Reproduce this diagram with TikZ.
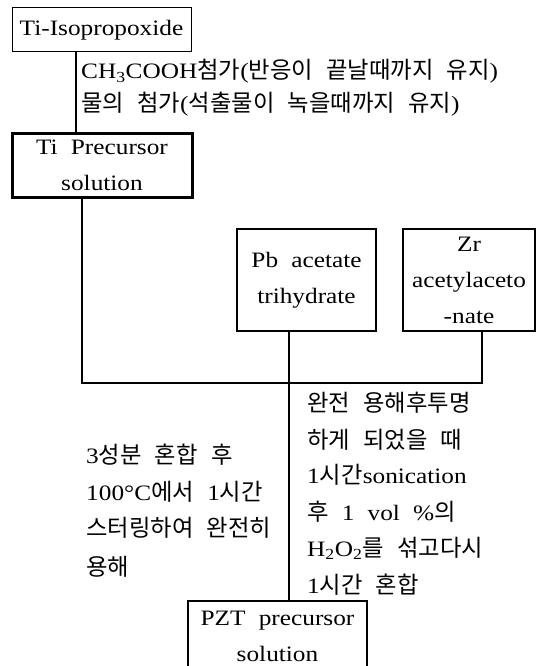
\documentclass[tikz,border=0pt]{standalone}
\usepackage{fontspec}
\setmainfont{Liberation Serif}[FakeStretch=1.15]
\newfontfamily\krfont{Noto Sans CJK KR}[Scale=1.06]
\newcommand\K[1]{{\krfont #1}}
\newcommand\wsp{\hspace{0.6em}}
\begin{document}
\begin{tikzpicture}[x=1pt,y=-1pt,
  every node/.style={font=\fontsize{22}{36}\selectfont},
  boxnode/.style={draw, line width=2pt, inner sep=0pt, align=center},
  conn/.style={line width=2pt},
  txt/.style={inner sep=0pt, anchor=base west}]
\useasboundingbox (0,0) rectangle (544,666);
\begin{scope}
\clip (0,0) rectangle (544,666);
% boxes
\node[boxnode, line width=1pt, minimum width=179pt, minimum height=44pt] (tiiso) at (101.5,30) {Ti-Isopropoxide};
\node[boxnode, line width=3pt, minimum width=180pt, minimum height=64pt] (tiprec) at (102,165) {Ti\wsp Precursor\\solution};
\node[boxnode, minimum width=139pt, minimum height=102pt] (pb) at (306.5,280) {Pb\wsp acetate\\trihydrate};
\node[boxnode, minimum width=132pt, minimum height=102pt] (zr) at (469,280) {Zr\\acetylaceto\\-nate};
\node[boxnode, line width=2.5pt, minimum width=179pt, minimum height=70pt] (pzt) at (277.5,636) {PZT\wsp precursor\\solution};
% connectors
\coordinate (mix) at (290,383);
\draw[conn] ([xshift=64pt]tiiso.south west) -- ([xshift=64pt]tiiso.south west |- tiprec.north);
\draw[conn] ([xshift=71pt]tiprec.south west) |- (mix);
\draw[conn] (mix) -| ([xshift=80pt]zr.south west);
\draw[conn] ([xshift=53pt]pb.south west) -- ([xshift=53pt]pb.south west |- pzt.north);
% texts
\node[txt] (t1) at (81,79) {CH\textsubscript{3}COOH\K{첨가}(\K{반응이}\wsp\K{끝날때까지}\wsp\K{유지})};
\node[txt] (t2) at (81,112) {\K{물의}\wsp\K{첨가}(\K{석출물이}\wsp\K{녹을때까지}\wsp\K{유지})};
\node[txt] (r1) at (307,411) {\K{완전}\wsp\K{용해후투명}};
\node[txt] (r2) at (307,448) {\K{하게}\wsp\K{되었을}\wsp\K{때}};
\node[txt] (r3) at (307,483) {1\K{시간}sonication};
\node[txt] (r4) at (307,520) {\K{후}\wsp1\wsp vol\wsp\%\K{의}};
\node[txt] (r5) at (307,556) {H\textsubscript{2}O\textsubscript{2}\K{를}\wsp\K{섞고다시}};
\node[txt] (r6) at (307,593) {1\K{시간}\wsp\K{혼합}};
\node[txt] (l1) at (86,463) {3\K{성분}\wsp\K{혼합}\wsp\K{후}};
\node[txt] (l2) at (86,500) {100°C\K{에서}\wsp1\K{시간}};
\node[txt] (l3) at (86,536) {\K{스터링하여}\wsp\K{완전히}};
\node[txt] (l4) at (86,575) {\K{용해}};
\end{scope}
\end{tikzpicture}
\end{document}
